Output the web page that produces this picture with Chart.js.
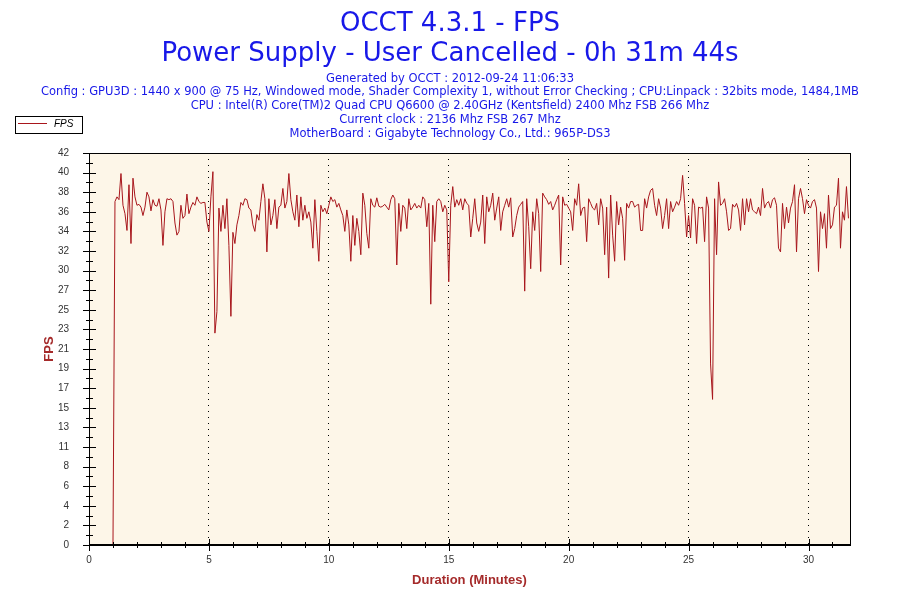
<!DOCTYPE html>
<html>
<head>
<meta charset="utf-8">
<title>OCCT 4.3.1 - FPS</title>
<script src="https://cdn.jsdelivr.net/npm/chart.js@4.4.0/dist/chart.umd.min.js"></script>
<style>
    html, body { margin: 0; padding: 0; background: #ffffff; }
    #wrap { width: 900px; height: 600px; }
</style>
</head>
<body>
<div id="wrap"><canvas id="fpsChart" width="900" height="600"></canvas></div>
<script>
// Header text, as printed by OCCT above the graph
const titleLines = [
    'OCCT 4.3.1 - FPS',
    'Power Supply - User Cancelled - 0h 31m 44s'
];
const infoLines = [
    'Generated by OCCT : 2012-09-24 11:06:33',
    'Config : GPU3D : 1440 x 900 @ 75 Hz, Windowed mode, Shader Complexity 1, without Error Checking ; CPU:Linpack : 32bits mode, 1484,1MB',
    'CPU : Intel(R) Core(TM)2 Quad CPU Q6600 @ 2.40GHz (Kentsfield) 2400 Mhz FSB 266 Mhz',
    'Current clock : 2136 Mhz FSB 267 Mhz',
    'MotherBoard : Gigabyte Technology Co., Ltd.: 965P-DS3'
];

// Y axis labels as OCCT prints them (21 evenly spaced rows from 0 to 42)
const yTickLabels = [0, 2, 4, 6, 8, 11, 13, 15, 17, 19, 21, 23, 25, 27, 30, 32, 34, 36, 38, 40, 42];
const Y_MAX = 42;
const X_MAX = 31.73;        // 31m 44s
const SAMPLE_START = 1.0;   // first sample (minutes)
const SAMPLE_STEP = 1 / 12; // one reading every 5 s

// FPS readings
const fpsValues = [
    // 1.0 - 5.8 min
    0, 36.8, 37.3, 37.0, 39.8, 36.4, 35.5, 33.7, 38.6, 32.3, 39.3, 37.3, 36.4, 36.5, 36.2, 35.3,
    36.2, 37.8, 37.3, 35.8, 37.0, 36.4, 36.3, 37.1, 35.9, 32.1, 35.7, 37.1, 37.0, 37.1, 36.8, 34.5,
    33.2, 33.6, 36.4, 35.0, 35.3, 37.6, 35.5, 36.2, 36.7, 36.4, 37.3, 36.8, 36.6, 36.7, 36.7, 34.6,
    33.6, 37.3, 40.0, 22.7, 25.0, 36.1, 33.6, 36.4, 33.9, 37.1, 32.1,
    // 5.9 - 10.9 min
    24.5, 33.5, 32.3, 34.3, 35.3, 36.7, 36.4, 37.1, 37.0, 36.1, 35.9, 34.3, 33.6, 35.4, 34.8, 36.8,
    38.7, 37.1, 31.4, 37.1, 34.3, 35.3, 37.0, 33.9, 36.2, 36.4, 38.2, 36.1, 36.8, 39.8, 37.0, 35.7,
    34.8, 37.5, 34.1, 37.3, 34.8, 36.4, 35.0, 35.7, 34.6, 31.8, 37.0, 33.6, 30.4, 36.4, 35.7, 36.1,
    35.5, 36.4, 37.3, 36.8, 37.0, 36.2, 36.6, 35.9, 35.3, 33.6, 35.9, 34.3, 30.4, 35.3,
    // 11.0 - 16.1 min
    32.1, 35.0, 33.6, 31.1, 37.7, 36.4, 33.4, 31.8, 37.1, 36.4, 36.2, 37.2, 36.3, 36.2, 36.3, 36.5,
    36.2, 35.9, 37.0, 37.5, 37.1, 30.0, 36.6, 33.6, 36.4, 36.1, 33.9, 37.1, 35.9, 36.2, 36.6, 36.1,
    36.4, 36.1, 37.3, 37.0, 34.1, 36.6, 25.8, 36.4, 32.5, 36.8, 37.1, 36.8, 35.7, 36.4, 35.9, 28.2,
    36.4, 38.4, 36.2, 37.0, 36.4, 37.1, 35.9, 37.1, 36.6, 36.4, 33.0, 35.0, 37.1, 34.5, 33.6,
    // 16.2 - 21.3 min
    34.6, 37.5, 32.3, 37.3, 35.7, 36.4, 37.7, 34.8, 36.1, 37.3, 33.7, 35.7, 36.4, 37.1, 36.2, 37.2,
    33.0, 33.9, 35.3, 36.2, 36.5, 36.8, 27.2, 37.1, 34.1, 29.6, 35.7, 33.7, 37.1, 35.5, 29.3, 37.7,
    37.3, 37.0, 36.5, 36.8, 35.9, 36.4, 37.0, 37.5, 30.0, 37.3, 36.4, 36.5, 36.1, 35.7, 33.7, 37.1,
    36.4, 38.7, 35.3, 36.1, 36.2, 32.5, 37.1, 36.6, 36.1, 35.9, 36.6, 34.3, 37.1, 36.1,
    // 21.5 - 26.5 min
    31.1, 36.2, 28.6, 37.5, 33.2, 30.4, 36.8, 34.3, 36.2, 35.0, 30.5, 36.6, 36.1, 36.8, 36.8, 36.2,
    36.4, 36.5, 33.7, 33.7, 37.1, 36.1, 37.3, 38.0, 38.2, 36.4, 35.3, 37.1, 36.1, 33.9, 35.3, 37.1,
    33.9, 36.8, 35.7, 36.2, 36.8, 36.4, 37.1, 39.6, 36.6, 33.0, 35.3, 32.9, 37.1, 36.4, 32.3, 36.2,
    36.1, 36.2, 32.5, 37.3, 36.1, 19.4, 15.6, 37.1, 31.1, 38.9, 36.4, 36.6, 37.1, 35.7, 33.7,
    // 26.8 - 31.7 min
    33.9, 36.5, 36.2, 36.6, 35.9, 33.7, 37.1, 34.3, 37.1, 35.7, 37.1, 35.9, 35.7, 35.5, 36.2, 35.3,
    38.2, 36.1, 36.6, 36.8, 36.1, 37.0, 37.2, 36.4, 31.8, 31.4, 36.6, 33.9, 36.2, 34.5, 36.1, 36.8,
    38.6, 31.4, 37.1, 38.2, 37.1, 35.5, 37.0, 36.4, 36.1, 36.8, 37.0, 36.1, 29.3, 35.7, 33.9, 35.5,
    31.8, 37.5, 33.9, 34.3, 36.2, 36.4, 39.3, 31.8, 35.7, 34.8, 38.4, 35.0
];

const lineColor = '#a8161c';
const headerBlue = '#1818e8';
const axisTitleColor = '#a52a2a';
const plotBackground = '#fdf6e8';

// Build the x/y points for Chart.js
const fpsPoints = fpsValues.map((v, i) => ({ x: SAMPLE_START + i * SAMPLE_STEP, y: v }));

/**
 * Title lines, info lines and the little legend box in the top-left corner
 */
const headerPlugin = {
    id: 'occtHeader',
    afterDraw(chart) {
        const ctx = chart.ctx;
        ctx.save();
        ctx.fillStyle = headerBlue;
        ctx.textAlign = 'center';
        ctx.textBaseline = 'alphabetic';

        ctx.font = '26px "DejaVu Sans"';
        ctx.fillText(titleLines[0], 450, 30.5);
        ctx.fillText(titleLines[1], 450, 61);

        ctx.font = '11.5px "DejaVu Sans"';
        const infoBaselines = [81.5, 95.3, 109.3, 123, 136.5];
        infoLines.forEach((line, i) => ctx.fillText(line, 450, infoBaselines[i]));

        // legend
        ctx.fillStyle = '#ffffff';
        ctx.fillRect(15.5, 116.5, 67, 17);
        ctx.strokeStyle = '#000000';
        ctx.lineWidth = 1;
        ctx.strokeRect(15.5, 116.5, 67, 17);
        ctx.strokeStyle = lineColor;
        ctx.beginPath();
        ctx.moveTo(18, 123.5);
        ctx.lineTo(47, 123.5);
        ctx.stroke();
        ctx.fillStyle = '#000000';
        ctx.textAlign = 'left';
        ctx.font = 'italic 10px "Liberation Sans"';
        ctx.fillText(chart.data.datasets[0].label, 54, 127);
        ctx.restore();
    }
};

/**
 * Plot background, frame and the tick marks that cross the axes
 */
const framePlugin = {
    id: 'occtFrame',
    beforeDatasetsDraw(chart) {
        // nothing here, background is painted in beforeDraw
    },
    beforeDraw(chart) {
        const { ctx, chartArea: a } = chart;
        ctx.save();
        ctx.fillStyle = plotBackground;
        ctx.fillRect(a.left, a.top, a.right - a.left, a.bottom - a.top);
        ctx.restore();
    },
    afterDatasetsDraw(chart) {
        const { ctx, chartArea: a, scales: { x, y } } = chart;
        ctx.save();
        ctx.strokeStyle = '#000000';
        ctx.lineWidth = 1;
        ctx.strokeRect(a.left + 0.5, a.top + 0.5, a.right - a.left, a.bottom - a.top);

        // x axis line is a bit heavier
        ctx.lineWidth = 2;
        ctx.beginPath();
        ctx.moveTo(a.left, a.bottom);
        ctx.lineTo(a.right + 1, a.bottom);
        ctx.stroke();

        ctx.lineWidth = 1;
        ctx.beginPath();
        // y ticks: labelled ones plus a short one halfway
        y.ticks.forEach((t, i) => {
            const py = Math.round(y.getPixelForValue(t.value)) + 0.5;
            ctx.moveTo(a.left - 6, py);
            ctx.lineTo(a.left + 7, py);
            if (i < y.ticks.length - 1) {
                const mid = (t.value + y.ticks[i + 1].value) / 2;
                const pm = Math.round(y.getPixelForValue(mid)) + 0.5;
                ctx.moveTo(a.left - 3, pm);
                ctx.lineTo(a.left + 4, pm);
            }
        });
        // x ticks: every minute, longer every 5
        x.ticks.forEach(t => {
            const px = Math.round(x.getPixelForValue(t.value)) + 0.5;
            const len = t.value % 5 === 0 ? 6 : 3;
            ctx.moveTo(px, a.bottom - len);
            ctx.lineTo(px, a.bottom + len);
        });
        ctx.stroke();
        ctx.restore();
    }
};

function initFpsChart() {
    const ctx = document.getElementById('fpsChart');

    new Chart(ctx, {
        type: 'line',
        data: {
            datasets: [{
                label: 'FPS',
                data: fpsPoints,
                borderColor: lineColor,
                backgroundColor: lineColor,
                borderWidth: 1,
                pointRadius: 0,
                tension: 0,
                fill: false
            }]
        },
        options: {
            responsive: false,
            animation: false,
            devicePixelRatio: 1,
            layout: {
                padding: { top: 153, right: 50, left: 0, bottom: 0 }
            },
            plugins: {
                legend: { display: false },
                title: { display: false },
                tooltip: { enabled: false }
            },
            scales: {
                x: {
                    type: 'linear',
                    min: 0,
                    max: X_MAX,
                    afterFit: scale => { scale.height = 55; },
                    ticks: {
                        stepSize: 1,
                        includeBounds: false,
                        autoSkip: false,
                        maxRotation: 0,
                        padding: 9,
                        color: '#333333',
                        font: { family: '"Liberation Sans"', size: 10 },
                        callback: value => (value % 5 === 0 ? value : '')
                    },
                    grid: {
                        drawTicks: false,
                        lineWidth: 1,
                        color: c => (c.tick && c.tick.value % 5 === 0 && c.tick.value > 0)
                            ? '#000000' : 'rgba(0,0,0,0)'
                    },
                    border: { display: false, dash: [1, 5] },
                    title: {
                        display: true,
                        text: 'Duration (Minutes)',
                        color: axisTitleColor,
                        font: { family: '"Liberation Sans"', size: 13, weight: 'bold' },
                        padding: { top: 0, bottom: 12 }
                    }
                },
                y: {
                    type: 'linear',
                    min: 0,
                    max: Y_MAX,
                    afterFit: scale => { scale.width = 89; },
                    afterBuildTicks: scale => {
                        const n = yTickLabels.length - 1;
                        scale.ticks = yTickLabels.map((lab, i) => ({ value: i * Y_MAX / n }));
                    },
                    ticks: {
                        padding: 12,
                        color: '#333333',
                        font: { family: '"Liberation Sans"', size: 10 },
                        callback: (value, index) => yTickLabels[index]
                    },
                    grid: { display: false },
                    border: { display: false },
                    title: {
                        display: true,
                        text: 'FPS',
                        color: axisTitleColor,
                        font: { family: '"Liberation Sans"', size: 13, weight: 'bold' },
                        padding: { top: 42, bottom: 0 }
                    }
                }
            }
        },
        plugins: [framePlugin, headerPlugin]
    });
}

document.addEventListener('DOMContentLoaded', initFpsChart);
</script>
</body>
</html>
